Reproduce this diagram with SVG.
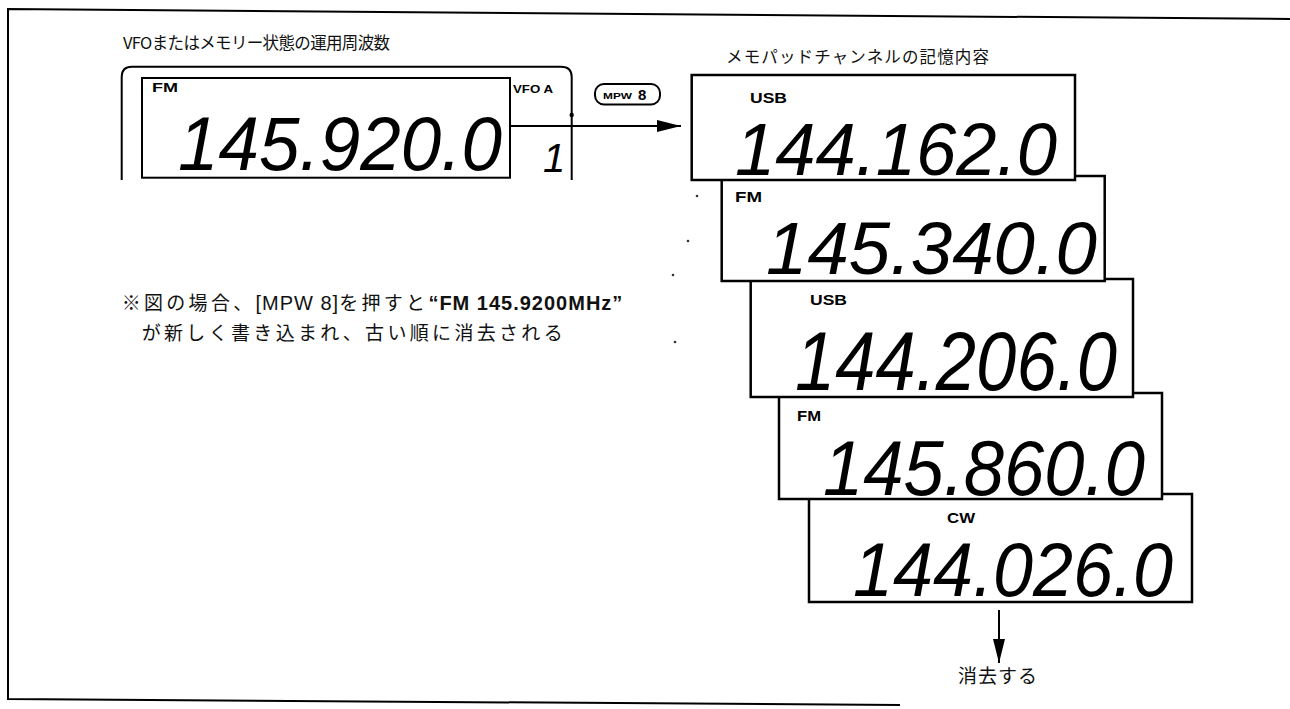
<svg xmlns="http://www.w3.org/2000/svg" width="1290" height="709" viewBox="0 0 1290 709">
<style>
.ln{fill:none;stroke:#000;stroke-width:2}
.box{fill:#fff;stroke:#000;stroke-width:2.5}
.jp{font-family:"Noto Sans CJK JP","Liberation Sans",sans-serif;fill:#111}
.mix{font-family:"Liberation Sans","Noto Sans CJK JP",sans-serif;fill:#111}
.lbl{font-family:"Liberation Sans",Arial,sans-serif;font-weight:bold;fill:#000}
.lcd{font-family:"Liberation Sans",Arial,sans-serif;font-style:italic;fill:#000}
.dot{fill:#333}
</style>
<defs>
<marker id="ah" viewBox="0 0 24 12" refX="24" refY="6" markerWidth="24" markerHeight="12" markerUnits="userSpaceOnUse" orient="auto">
<path d="M0,0 L24,6 L0,12 Z" fill="#000"/>
</marker>
</defs>
<rect width="1290" height="709" fill="#fff"/>
<path class="ln" d="M1290,19 L8,9 L8,699 L900,705"/>
<g id="title-left"><text class="jp" x="123" y="49" font-size="16.5" textLength="267" lengthAdjust="spacing">VFOまたはメモリー状態の運用周波数</text></g>
<g id="title-right"><text class="jp" x="726" y="63" font-size="16.5" textLength="263" lengthAdjust="spacing">メモパッドチャンネルの記憶内容</text></g>
<g id="vfo-display">
<path class="ln" d="M121.7,180 V77 Q121.7,66.7 132,66.7 H561 Q571.7,66.7 571.7,77 V180"/>
<rect class="ln" x="142" y="78" width="368" height="99.7"/>
<text class="lbl" x="152" y="91.7" font-size="13" textLength="26" lengthAdjust="spacingAndGlyphs">FM</text>
<text class="lbl" x="513" y="92.7" font-size="11.5" textLength="40" lengthAdjust="spacingAndGlyphs">VFO A</text>
<text class="lcd" x="178" y="170" font-size="76" textLength="324" lengthAdjust="spacingAndGlyphs">145.920.0</text>
<text class="lcd" x="543" y="172" font-size="40">1</text>
<circle cx="571.7" cy="115" r="2.2" fill="#000"/>
</g>
<g id="mpw8">
<rect x="595" y="84" width="65" height="20.5" rx="9" fill="#fff" stroke="#000" stroke-width="2"/>
<text class="lbl" x="603" y="98.5" font-size="8.5" textLength="29" lengthAdjust="spacingAndGlyphs">MPW</text>
<text class="lbl" x="638" y="100" font-size="15">8</text>
</g>
<g id="mem-cw">
<rect class="box" x="809" y="494" width="383" height="108"/>
<text class="lbl" x="947" y="523" font-size="14" textLength="28" lengthAdjust="spacingAndGlyphs">CW</text>
<text class="lcd" x="853" y="596" font-size="76" textLength="320" lengthAdjust="spacingAndGlyphs">144.026.0</text>
</g>
<g id="mem-fm2">
<rect class="box" x="779" y="393" width="383" height="106"/>
<text class="lbl" x="797" y="421" font-size="14" textLength="24" lengthAdjust="spacingAndGlyphs">FM</text>
<text class="lcd" x="823" y="495" font-size="78" textLength="322" lengthAdjust="spacingAndGlyphs">145.860.0</text>
</g>
<g id="mem-usb2">
<rect class="box" x="750.7" y="279" width="382.3" height="118"/>
<text class="lbl" x="810" y="305" font-size="15" textLength="37" lengthAdjust="spacingAndGlyphs">USB</text>
<text class="lcd" x="795" y="390" font-size="84" textLength="322" lengthAdjust="spacingAndGlyphs">144.206.0</text>
</g>
<g id="mem-fm1">
<rect class="box" x="721.7" y="176" width="383" height="105"/>
<text class="lbl" x="735" y="202" font-size="14" textLength="27" lengthAdjust="spacingAndGlyphs">FM</text>
<text class="lcd" x="766" y="274" font-size="74" textLength="331" lengthAdjust="spacingAndGlyphs">145.340.0</text>
</g>
<g id="mem-usb1">
<rect class="box" x="691.7" y="75" width="383.3" height="105"/>
<text class="lbl" x="750" y="103" font-size="15" textLength="37" lengthAdjust="spacingAndGlyphs">USB</text>
<text class="lcd" x="735" y="175" font-size="74" textLength="322" lengthAdjust="spacingAndGlyphs">144.162.0</text>
</g>
<g id="connectors">
<line class="ln" x1="510" y1="126" x2="681" y2="126" marker-end="url(#ah)"/>
<line class="ln" x1="999" y1="610" x2="999" y2="663" marker-end="url(#ah)"/>
</g>
<g id="note">
<text class="mix" x="121.7" y="310" font-size="19"><tspan letter-spacing="3.3">※図の場合、</tspan><tspan font-size="20" letter-spacing="1">[MPW 8]</tspan><tspan letter-spacing="3.3">を押すと</tspan><tspan font-size="20" font-weight="bold" letter-spacing="1">“FM 145.9200MHz”</tspan></text>
<text class="jp" x="141.7" y="340" font-size="19" textLength="421" lengthAdjust="spacing">が新しく書き込まれ、古い順に消去される</text>
</g>
<g id="erase-label"><text class="jp" x="958" y="683" font-size="19" textLength="79" lengthAdjust="spacing">消去する</text></g>
<g id="specks">
<circle class="dot" cx="697" cy="196" r="1.3"/>
<circle class="dot" cx="688" cy="241" r="1.3"/>
<circle class="dot" cx="673" cy="275" r="1.3"/>
<circle class="dot" cx="675" cy="342" r="1.3"/>
</g>
</svg>
